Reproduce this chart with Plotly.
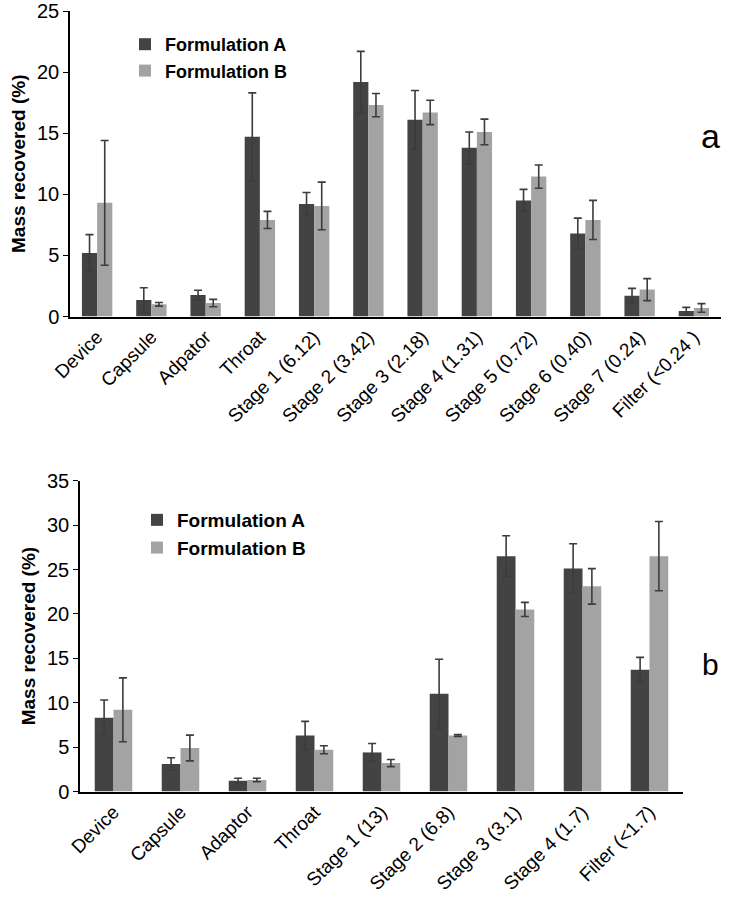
import plotly.graph_objects as go

# ---------- data: panel a ----------
cats_a = ["Device", "Capsule", "Adpator", "Throat", "Stage 1 (6.12)", "Stage 2 (3.42)",
          "Stage 3 (2.18)", "Stage 4 (1.31)", "Stage 5 (0.72)", "Stage 6 (0.40)",
          "Stage 7 (0.24)", "Filter (<0.24 )"]
a_formA = [5.2, 1.35, 1.75, 14.7, 9.2, 19.2, 16.1, 13.8, 9.5, 6.8, 1.7, 0.45]
a_formA_err = [1.5, 1.0, 0.4, 3.6, 0.95, 2.5, 2.4, 1.3, 0.9, 1.25, 0.6, 0.3]
a_formB = [9.3, 1.0, 1.1, 7.9, 9.05, 17.3, 16.7, 15.1, 11.45, 7.9, 2.2, 0.7]
a_formB_err = [5.1, 0.15, 0.3, 0.7, 1.95, 0.95, 1.0, 1.05, 0.95, 1.6, 0.9, 0.35]

# ---------- data: panel b ----------
cats_b = ["Device", "Capsule", "Adaptor", "Throat", "Stage 1 (13)", "Stage 2 (6.8)",
          "Stage 3 (3.1)", "Stage 4 (1.7)", "Filter (<1.7)"]
b_formA = [8.3, 3.1, 1.2, 6.3, 4.4, 11.0, 26.5, 25.1, 13.7]
b_formA_err = [2.0, 0.7, 0.3, 1.6, 1.0, 3.9, 2.3, 2.8, 1.4]
b_formB = [9.2, 4.9, 1.3, 4.7, 3.2, 6.3, 20.5, 23.1, 26.5]
b_formB_err = [3.6, 1.45, 0.2, 0.45, 0.4, 0.1, 0.8, 2.0, 3.9]

series_names = ["Formulation A", "Formulation B"]
colA = "#434343"
colB = "#a3a3a3"
errcol = "#3c3c3c"
FONT = "Liberation Sans, Arial, sans-serif"

W, H = 736, 900


def px_x(p):
    return p / W


def px_y(p):
    return 1 - p / H


fig = go.Figure()


def add_bars(cats, ya, ea, yb, eb, xa, ya_ax, legend):
    for name, vals, errs, col in [(series_names[0], ya, ea, colA),
                                  (series_names[1], yb, eb, colB)]:
        fig.add_trace(go.Bar(
            x=cats, y=vals, name="<b>" + name + "</b>",
            marker=dict(color=col, line=dict(width=0)),
            error_y=dict(type="data", array=errs, visible=True,
                         color=errcol, thickness=1.6, width=4),
            xaxis=xa, yaxis=ya_ax, legend=legend, legendgroup=legend + name,
        ))


add_bars(cats_a, a_formA, a_formA_err, a_formB, a_formB_err, "x", "y", "legend")
add_bars(cats_b, b_formA, b_formA_err, b_formB, b_formB_err, "x2", "y2", "legend2")


def xax(dom, anchor, angle):
    return dict(domain=dom, anchor=anchor, linewidth=2, linecolor="black",
                showline=True, showgrid=False, zeroline=False, ticks="",
                tickangle=angle, automargin=False, ticklabeloverflow="allow",
                tickfont=dict(family=FONT, size=19, color="black"))


def yax(dom, anchor, rng):
    return dict(domain=dom, anchor=anchor, range=rng, dtick=5, linewidth=1.5,
                ticks="outside", ticklen=5, tickcolor="black", automargin=False,
                ticklabeloverflow="allow",
                title=dict(text="<b>Mass recovered (%)</b>", standoff=6,
                           font=dict(family=FONT, size=19, color="black")),
                showline=True, linecolor="black", showgrid=False, zeroline=False,
                tickfont=dict(family=FONT, size=20, color="black"))


fig.update_layout(
    width=W, height=H,
    margin=dict(l=0, r=0, t=0, b=0, autoexpand=False),
    paper_bgcolor="white", plot_bgcolor="white",
    barmode="group", bargap=0.44, bargroupgap=0.0,
    font=dict(family=FONT, color="black"),
    xaxis=xax([px_x(70), px_x(721)], "y", -45),
    yaxis=yax([px_y(316.5), px_y(11)], "x", [0, 25]),
    xaxis2=xax([px_x(80), px_x(683)], "y2", -45),
    yaxis2=yax([px_y(791.5), px_y(480.7)], "x2", [0, 35]),
    legend=dict(x=px_x(125), y=px_y(26), xanchor="left", yanchor="top",
                bgcolor="rgba(0,0,0,0)", tracegroupgap=0,
                font=dict(family=FONT, size=18, color="black")),
    legend2=dict(x=px_x(137), y=px_y(501), xanchor="left", yanchor="top",
                 bgcolor="rgba(0,0,0,0)", tracegroupgap=0,
                 font=dict(family=FONT, size=19, color="black")),
    annotations=[
        dict(text="a", x=px_x(710), y=px_y(136), xref="paper", yref="paper",
             xanchor="center", yanchor="middle",
             showarrow=False, font=dict(family=FONT, size=34, color="black")),
        dict(text="b", x=px_x(710), y=px_y(664), xref="paper", yref="paper",
             xanchor="center", yanchor="middle",
             showarrow=False, font=dict(family=FONT, size=30, color="black")),
    ],
)

# remove the default 8px page margin so the figure fills the window exactly
fig.write_html("out.html", config={"displayModeBar": False},
               post_script="document.body.style.margin='0';")
